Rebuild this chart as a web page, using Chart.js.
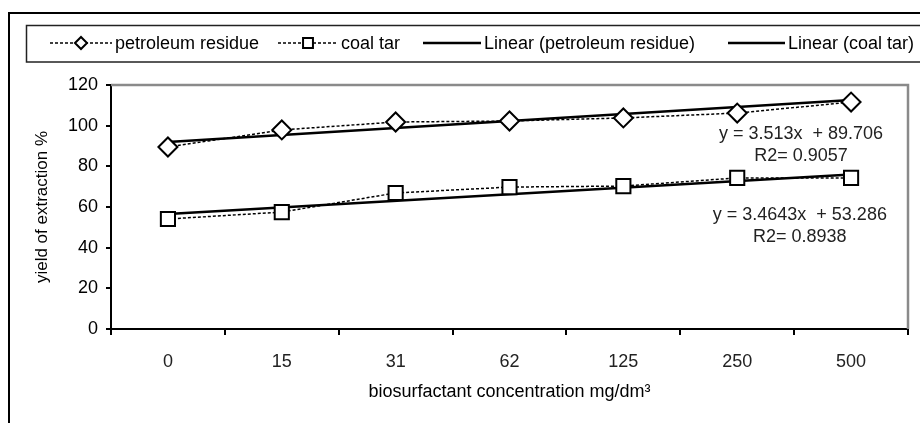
<!DOCTYPE html>
<html>
<head>
<meta charset="utf-8">
<script src="https://cdn.jsdelivr.net/npm/chart.js@4/dist/chart.umd.min.js"></script>
<style>
  html, body { margin: 0; padding: 0; background: #fff; }
  #wrap { width: 920px; height: 423px; }
</style>
</head>
<body>
<div id="wrap"><canvas id="chart" width="920" height="423"></canvas></div>
<script>
// concentration categories (mg/dm3)
const categories = ['0', '15', '31', '62', '125', '250', '500'];

// yield of extraction %
const petroleumResidue = [89.5, 97.9, 101.8, 102.3, 103.8, 106.2, 111.6];
const coalTar = [54.1, 57.5, 66.9, 69.8, 70.3, 74.3, 74.3];

// trend line end points as drawn (first and last category)
const trendPetroleum = [92.0, 112.6];
const trendCoal = [56.5, 76.0];

const yTicks = { min: 0, max: 120, step: 20 };

const equations = [
    { lines: ['y = 3.513x  + 89.706', 'R2= 0.9057'], at: [5.56, 96.0] },
    { lines: ['y = 3.4643x  + 53.286', 'R2= 0.8938'], at: [5.55, 56.0] }
];

const FONT = "Arial, 'Liberation Sans', sans-serif";
Chart.defaults.font.family = FONT;
Chart.defaults.font.size = 18;
Chart.defaults.color = '#111';

const trendPoints = (ends) => [
    { x: categories[0], y: ends[0] },
    { x: categories[categories.length - 1], y: ends[1] }
];

// frame, plot border, legend box and trend equations
const decorations = {
    id: 'decorations',
    beforeDatasetsDraw(chart) {
        const { ctx, chartArea: a } = chart;
        ctx.save();
        ctx.strokeStyle = '#8a8a8a';
        ctx.lineWidth = 2.5;
        ctx.beginPath();
        ctx.moveTo(a.left, a.top);
        ctx.lineTo(a.right, a.top);
        ctx.lineTo(a.right, a.bottom);
        ctx.stroke();
        ctx.restore();
    },
    afterDraw(chart) {
        const { ctx, scales: { x, y } } = chart;
        ctx.save();
        // outer frame
        ctx.strokeStyle = '#000';
        ctx.lineWidth = 2;
        ctx.beginPath();
        ctx.moveTo(9, 423);
        ctx.lineTo(9, 13);
        ctx.lineTo(920, 13);
        ctx.stroke();

        // legend box
        ctx.strokeStyle = '#222';
        ctx.lineWidth = 1.5;
        ctx.strokeRect(26.5, 25.5, 900, 36.5);

        const ly = 43;
        const items = [
            { ds: 0, x0: 50, x1: 112, text: 'petroleum residue' },
            { ds: 1, x0: 278, x1: 338, text: 'coal tar' },
            { ds: 2, x0: 423, x1: 481, text: 'Linear (petroleum residue)' },
            { ds: 3, x0: 728, x1: 785, text: 'Linear (coal tar)' }
        ];
        ctx.font = '18px ' + FONT;
        ctx.textBaseline = 'middle';
        ctx.textAlign = 'left';
        items.forEach(it => {
            const ds = chart.data.datasets[it.ds];
            ctx.strokeStyle = '#000';
            ctx.lineWidth = ds.borderWidth;
            ctx.setLineDash(ds.borderDash || []);
            ctx.beginPath();
            ctx.moveTo(it.x0, ly);
            ctx.lineTo(it.x1, ly);
            ctx.stroke();
            ctx.setLineDash([]);
            if (ds.pointRadius > 0) {
                ctx.fillStyle = '#fff';
                ctx.strokeStyle = '#000';
                ctx.lineWidth = 2;
                Chart.helpers.drawPoint(ctx, {
                    pointStyle: ds.pointStyle,
                    rotation: 0,
                    borderWidth: 2,
                    radius: ds.pointStyle === 'rect' ? 7 : 6
                }, (it.x0 + it.x1) / 2, ly);
            }
            ctx.fillStyle = '#000';
            ctx.fillText(it.text, it.x1 + 3, ly + 1);
        });

        // trend equations
        ctx.fillStyle = '#222';
        ctx.textAlign = 'center';
        equations.forEach(eq => {
            const px = x.getPixelForValue(eq.at[0]);
            const py = y.getPixelForValue(eq.at[1]);
            eq.lines.forEach((t, i) => ctx.fillText(t, px, py + i * 22));
        });
        ctx.restore();
    }
};

new Chart(document.getElementById('chart'), {
    type: 'line',
    data: {
        labels: categories,
        datasets: [
            {
                label: 'petroleum residue',
                data: petroleumResidue,
                borderColor: '#000',
                borderWidth: 1.5,
                borderDash: [3, 2],
                pointStyle: 'rectRot',
                pointRadius: 9.5,
                pointBorderWidth: 2,
                pointBackgroundColor: '#fff',
                pointBorderColor: '#000',
                order: 1
            },
            {
                label: 'coal tar',
                data: coalTar,
                borderColor: '#000',
                borderWidth: 1.5,
                borderDash: [3, 2],
                pointStyle: 'rect',
                pointRadius: 10,
                pointBorderWidth: 2,
                pointBackgroundColor: '#fff',
                pointBorderColor: '#000',
                order: 1
            },
            {
                label: 'Linear (petroleum residue)',
                data: trendPoints(trendPetroleum),
                borderColor: '#000',
                borderWidth: 2.5,
                pointRadius: 0,
                order: 2
            },
            {
                label: 'Linear (coal tar)',
                data: trendPoints(trendCoal),
                borderColor: '#000',
                borderWidth: 2.5,
                pointRadius: 0,
                order: 2
            }
        ]
    },
    options: {
        responsive: false,
        animation: false,
        layout: { padding: { left: 0, top: 85, right: 1, bottom: 0 } },
        plugins: {
            legend: { display: false },
            tooltip: { enabled: false }
        },
        scales: {
            x: {
                offset: true,
                grid: {
                    offset: true,
                    drawOnChartArea: false,
                    tickLength: 6,
                    color: '#000',
                    lineWidth: 2
                },
                border: { color: '#000', width: 2 },
                ticks: { padding: 16, color: '#222', maxRotation: 0 },
                title: {
                    display: true,
                    text: 'biosurfactant concentration mg/dm³',
                    color: '#000',
                    padding: { top: 0, bottom: 20 }
                },
                afterFit(scale) { scale.height = 94; }
            },
            y: {
                min: yTicks.min,
                max: yTicks.max,
                grid: {
                    drawOnChartArea: false,
                    tickLength: 5,
                    color: '#000',
                    lineWidth: 2
                },
                border: { color: '#000', width: 2 },
                ticks: { stepSize: yTicks.step, padding: 8, color: '#000' },
                title: {
                    display: true,
                    text: 'yield of extraction %',
                    color: '#000',
                    font: { size: 17 },
                    padding: { top: 32, bottom: 0 }
                },
                afterFit(scale) { scale.width = 111; }
            }
        }
    },
    plugins: [decorations]
});
</script>
</body>
</html>
